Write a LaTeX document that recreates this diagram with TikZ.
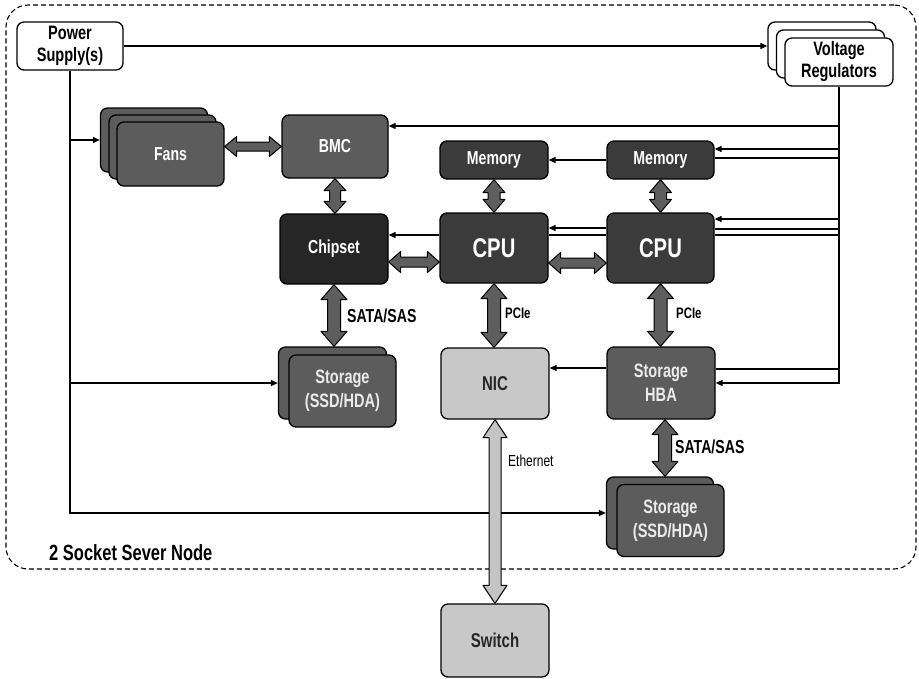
\documentclass[tikz,border=0pt]{standalone}
\usepackage{fontspec}
\setmainfont[FakeStretch=0.75]{Liberation Sans}
\usetikzlibrary{arrows.meta,calc}

\definecolor{midgray}{HTML}{5C5C5C}
\definecolor{darkgraytwo}{HTML}{3B3B3B}
\definecolor{darkestgray}{HTML}{262626}
\definecolor{lightgraytwo}{HTML}{C8C8C8}
\definecolor{arrowgray}{HTML}{5E5E5E}
\definecolor{ethgray}{HTML}{C4C4C4}

\newcommand\fnt[2]{\fontsize{#1}{#2}\selectfont}
\newcommand\vfat[6]{\draw[#1] let \p1=(#2), \p2=(#3) in (\x1,\y1) -- (\x1+#5,\y1-#6) -- (\x1+#4,\y1-#6) -- (\x1+#4,\y2+#6) -- (\x1+#5,\y2+#6) -- (\x1,\y2) -- (\x1-#5,\y2+#6) -- (\x1-#4,\y2+#6) -- (\x1-#4,\y1-#6) -- (\x1-#5,\y1-#6) -- cycle;}
\newcommand\hfat[6]{\draw[#1] let \p1=(#2), \p2=(#3) in (\x1,\y1) -- (\x1+#6,\y1+#5) -- (\x1+#6,\y1+#4) -- (\x2-#6,\y1+#4) -- (\x2-#6,\y1+#5) -- (\x2,\y1) -- (\x2-#6,\y1-#5) -- (\x2-#6,\y1-#4) -- (\x1+#6,\y1-#4) -- (\x1+#6,\y1-#5) -- cycle;}

\begin{document}
\begin{tikzpicture}[x=1pt,y=-1pt,
  box/.style={draw=black, line width=1.3pt, rounded corners=7pt, inner sep=0pt, align=center, font=\bfseries\fnt{18.8}{22}},
  whitebox/.style={box, fill=white, text=black, font=\bfseries\fnt{19.4}{22}},
  midbox/.style={box, fill=midgray, text=white},
  storbox/.style={box, fill=midgray, text=white!92!black, font=\bfseries\fnt{19.4}{24}},
  darkbox/.style={box, fill=darkgraytwo, text=white},
  chipbox/.style={box, fill=darkestgray, text=white},
  lightbox/.style={box, fill=lightgraytwo, text=black!85, font=\bfseries\fnt{20}{22}},
  pw/.style={line width=1.2pt, -{Triangle[length=7pt,width=6pt]}},
  pl/.style={line width=1.2pt},
  fat/.style={draw=black, line width=1pt, fill=arrowgray, line join=round},
  ethfat/.style={fat, fill=ethgray},
  lbl/.style={font=\bfseries\fnt{18.8}{20}, anchor=west, inner sep=0pt},
]
\useasboundingbox (0,0) rectangle (919,678);

% outer frame
\node[draw, dash pattern=on 5pt off 3pt, line width=1.1pt, rounded corners=22pt, minimum width=910pt, minimum height=564pt, inner sep=0pt] (server) at (461,287) {};
\node[lbl, font=\bfseries\fnt{22}{24}] (srvlbl) at (49,553) {2 Socket Sever Node};

% power supply and regulators
\node[whitebox, minimum width=106pt, minimum height=48pt] (ps) at (70,46) {Power\\Supply(s)};
\node[whitebox, minimum width=108pt, minimum height=48pt] (vr3) at (822,46) {};
\node[whitebox, minimum width=108pt, minimum height=48pt] (vr2) at (830.5,54) {};
\node[whitebox, minimum width=108pt, minimum height=48pt] (vr) at (839,62) {Voltage\\Regulators};

% fans
\node[midbox, minimum width=107pt, minimum height=64pt] (fans3) at (154,140) {};
\node[midbox, minimum width=107pt, minimum height=64pt] (fans2) at (162.5,147) {};
\node[midbox, minimum width=107pt, minimum height=64pt] (fans) at (170.5,154) {Fans};

\node[midbox, minimum width=106pt, minimum height=63pt] (bmc) at (335,146.5) {BMC};
\node[chipbox, minimum width=108pt, minimum height=70pt] (chip) at (334,249) {Chipset};

\node[darkbox, minimum width=108pt, minimum height=38pt] (mem1) at (494,160) {Memory};
\node[darkbox, minimum width=107pt, minimum height=38pt] (mem2) at (660.5,160) {Memory};
\node[darkbox, minimum width=108pt, minimum height=70pt, font=\bfseries\fnt{27}{30}] (cpu1) at (494,248) {CPU};
\node[darkbox, minimum width=107pt, minimum height=70pt, font=\bfseries\fnt{27}{30}] (cpu2) at (660.5,248) {CPU};

\node[storbox, minimum width=108pt, minimum height=72pt] (stor1b) at (332.5,383) {};
\node[storbox, minimum width=107pt, minimum height=72pt] (stor1) at (342.5,391) {Storage\\(SSD/HDA)};
\node[lightbox, minimum width=108pt, minimum height=71pt] (nic) at (495,383.5) {NIC};
\node[storbox, minimum width=108pt, minimum height=72pt] (hba) at (661,383) {Storage\\HBA};
\node[storbox, minimum width=107pt, minimum height=72pt] (stor2b) at (660,513) {};
\node[storbox, minimum width=107pt, minimum height=72pt] (stor2) at (670.5,520.5) {Storage\\(SSD/HDA)};
\node[lightbox, minimum width=108pt, minimum height=73pt] (switch) at (495,640.5) {Switch};

% power supply connectors
\draw[pw] (ps.east) -- (vr3.west);
\draw[pw] (ps.south) |- (stor2b.west);
\draw[pw] (ps.south |- fans3.west) -- (fans3.west);
\draw[pw] (ps.south |- stor1b.west) -- (stor1b.west);

% regulator connectors
\draw[pw] (vr.south) |- (hba.east);
\coordinate (bmcin) at ([yshift=20.5pt]bmc.east);
\draw[pw] (vr.south |- bmcin) -- (bmcin);
\coordinate (m2a) at ([yshift=11pt]mem2.east);
\coordinate (m2b) at ([yshift=2pt]mem2.east);
\draw[pw] (vr.south |- m2a) -- (m2a);
\draw[pl] (m2b) -- (vr.south |- m2b);
\coordinate (c2a) at ([yshift=29pt]cpu2.east);
\coordinate (c2b) at ([yshift=19pt]cpu2.east);
\coordinate (c2c) at ([yshift=13pt]cpu2.east);
\draw[pw] (vr.south |- c2a) -- (c2a);
\draw[pl] (c2b) -- (vr.south |- c2b);
\draw[pl] (c2c) -- (vr.south |- c2c);
\draw[pw] ([yshift=20pt]cpu2.west) -- ([yshift=20pt]cpu1.east);
\draw[pl] ([yshift=13pt]cpu2.west) -- ([yshift=13pt]cpu1.east);
\draw[pw] ([yshift=13pt]cpu1.west) -- ([yshift=13pt]cpu1.west -| chip.east);
\draw[pw] (mem2.west) -- (mem1.east);
\draw[pw] ([yshift=15pt]hba.west) -- ([yshift=15pt]hba.west -| nic.east);
\draw[pl] ([yshift=14pt]hba.east) -- ([yshift=14pt]hba.east -| vr.south);

% fat data arrows
\hfat{fat}{fans.east |- bmc.west}{bmc.west}{4.5pt}{10pt}{12pt}
\vfat{fat}{bmc.south}{bmc.south |- chip.north}{5.5pt}{11pt}{12pt}
\coordinate (cc) at ([yshift=-13pt]chip.east);
\hfat{fat}{cc}{cc -| cpu1.west}{5pt}{10.5pt}{12pt}
\coordinate (c1r) at ([yshift=-15pt]cpu1.east);
\hfat{fat}{c1r}{c1r -| cpu2.west}{5pt}{10.5pt}{12pt}
\vfat{fat}{mem1.south}{cpu1.north}{6pt}{11pt}{13pt}
\vfat{fat}{mem2.south}{mem2.south |- cpu2.north}{6pt}{11pt}{13pt}
\vfat{fat}{chip.south}{chip.south |- stor1b.north}{6.5pt}{13pt}{15pt}
\vfat{fat}{cpu1.south}{cpu1.south |- nic.north}{6.5pt}{13pt}{15pt}
\vfat{fat}{cpu2.south}{cpu2.south |- hba.north}{6.5pt}{13pt}{15pt}
\coordinate (hs) at ([xshift=4pt]hba.south);
\vfat{fat}{hs}{hs |- stor2b.north}{6.5pt}{13pt}{15pt}
\vfat{ethfat}{nic.south}{nic.south |- switch.north}{6pt}{12pt}{18pt}

% labels
\node[lbl] (l1) at (347,316) {SATA/SAS};
\node[lbl, font=\bfseries\fnt{15.2}{17}] (l2) at (505,313) {PCIe};
\node[lbl, font=\bfseries\fnt{15.2}{17}] (l3) at (676,313) {PCIe};
\node[lbl] (l4) at (675,447) {SATA/SAS};
\node[lbl, font=\fnt{16}{18}] (l5) at (508,461) {Ethernet};
\end{tikzpicture}
\end{document}
